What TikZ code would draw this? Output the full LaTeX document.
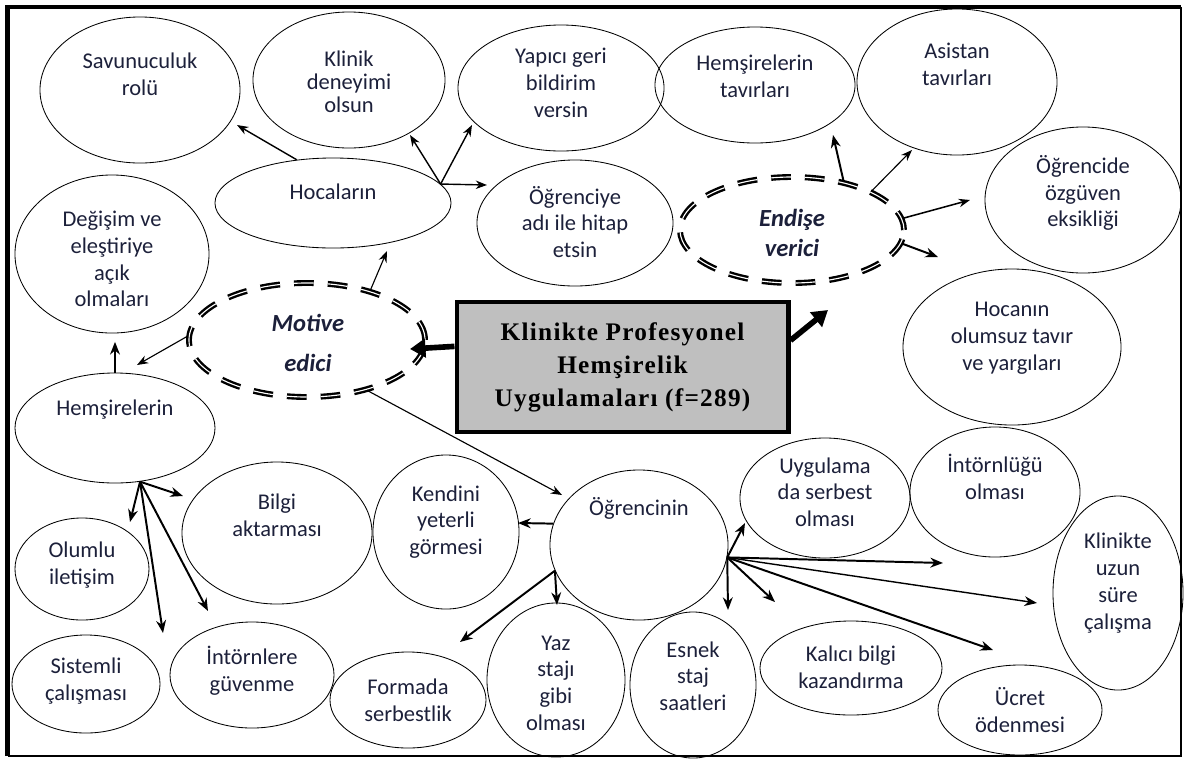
\documentclass[tikz,border=0pt]{standalone}
\usepackage{fontspec}
\setmainfont{Carlito}
\newfontfamily\boxfont[LetterSpace=5]{Liberation Serif}
\usetikzlibrary{shapes.geometric,arrows.meta}
\definecolor{ink}{RGB}{28,32,58}
\definecolor{boxgray}{RGB}{191,191,191}

\begin{document}
\begin{tikzpicture}[x=0.025cm,y=-0.025cm,
        bub/.style={ellipse,draw,line width=0.6pt,inner sep=0},
        dbl/.style={ellipse,draw,double,line width=1.7pt,double distance=0.8pt,dash pattern=on 14pt off 10pt,inner sep=0},
        txt/.style={align=center,text=ink,inner sep=0,font=\fontsize{16}{19}\selectfont},
        key/.style={align=center,text=ink,inner sep=0,font=\fontsize{17.5}{21}\selectfont\bfseries\itshape},
        thin arr/.style={-{Stealth[length=8pt,width=6pt]},line width=0.8pt},
        arr/.style={-{Stealth[length=9pt,width=7pt]},line width=1.4pt},
        big arr/.style={-{Triangle[length=11pt,width=13pt]},line width=4pt},
        ]
\useasboundingbox (0,0) rectangle (1188,758);

% frame
\draw[line width=3.5pt] (7.5,756) -- (7.5,7) -- (1181,7);
\draw[line width=2pt] (1181,7) -- (1181,756) -- (7.5,756);

% centre box
\node[draw,line width=3.5pt,fill=boxgray,minimum width=8.275cm,minimum height=3.25cm,align=center,
      font=\boxfont\fontsize{18}{23.5}\selectfont\bfseries] (box) at (622.5,367)
      {Klinikte Profesyonel\\Hemşirelik\\Uygulamaları (f=289)};

% the two groups
\node[dbl,minimum width=5.9cm,minimum height=2.85cm] (mot) at (307,340) {};
\node[key,font=\fontsize{17.5}{28.5}\selectfont\bfseries\itshape] (mot-t) at (308,343) {Motive\\edici};
\node[dbl,minimum width=5.6cm,minimum height=2.65cm] (end) at (792,230) {};
\node[key] (end-t) at (792,233) {Endişe\\verici};

% bubbles
\node[bub,minimum width=5cm,minimum height=3.65cm] (sav) at (140,90) {};
\node[txt] (sav-t) at (140,74) {Savunuculuk\\rolü};
\node[bub,minimum width=4.8cm,minimum height=3.4cm] (kli) at (349,80) {};
\node[txt,font=\fontsize{16}{16.5}\selectfont] (kli-t) at (349,82) {Klinik\\deneyimi\\olsun};
\node[bub,minimum width=5.15cm,minimum height=3.15cm] (yap) at (561,88) {};
\node[txt] (yap-t) at (561,83) {Yapıcı geri\\bildirim\\versin};
\node[bub,minimum width=5cm,minimum height=2.9cm] (hta) at (755,85) {};
\node[txt] (hta-t) at (755,76) {Hemşirelerin\\tavırları};
\node[bub,minimum width=5cm,minimum height=3.65cm] (asi) at (957,82) {};
\node[txt] (asi-t) at (957,64) {Asistan\\tavırları};
\node[bub,minimum width=4.9cm,minimum height=3.65cm] (ozg) at (1083,200) {};
\node[txt] (ozg-t) at (1083,193) {Öğrencide\\özgüven\\eksikliği};
\node[bub,minimum width=4.9cm,minimum height=3.15cm] (hit) at (575,223) {};
\node[txt] (hit-t) at (575,222) {Öğrenciye\\adı ile hitap\\etsin};
\node[bub,minimum width=5.9cm,minimum height=2.25cm] (hoc) at (333,203) {};
\node[txt] (hoc-t) at (333,192) {Hocaların};
\node[bub,minimum width=4.85cm,minimum height=3.95cm] (deg) at (112,254) {};
\node[txt] (deg-t) at (112,259) {Değişim ve\\eleştiriye\\açık\\olmaları};
\node[bub,minimum width=5cm,minimum height=2.75cm] (hem) at (115,428) {};
\node[txt] (hem-t) at (115,410) {Hemşirelerin};
\node[bub,minimum width=5.45cm,minimum height=3.9cm] (hyr) at (1012,347) {};
\node[txt] (hyr-t) at (1012,338) {Hocanın\\olumsuz tavır\\ve yargıları};
\node[bub,minimum width=4.75cm,minimum height=3.55cm] (bil) at (277,533) {};
\node[txt] (bil-t) at (277,515) {Bilgi\\aktarması};
\node[bub,minimum width=3.65cm,minimum height=3.85cm] (ken) at (446,532) {};
\node[txt] (ken-t) at (446,522) {Kendini\\yeterli\\görmesi};
\node[bub,minimum width=4.45cm,minimum height=3.75cm] (ogr) at (639,545) {};
\node[txt] (ogr-t) at (639,508) {Öğrencinin};
\node[bub,minimum width=4.25cm,minimum height=3cm] (uyg) at (825,498) {};
\node[txt] (uyg-t) at (825,492) {Uygulama\\da serbest\\olması};
\node[bub,minimum width=4.25cm,minimum height=3.25cm] (int) at (995,492) {};
\node[txt] (int-t) at (995,477) {İntörnlüğü\\olması};
\node[bub,minimum width=3.25cm,minimum height=4.85cm] (kuz) at (1118,593) {};
\node[txt] (kuz-t) at (1118,583) {Klinikte\\uzun\\süre\\çalışma};
\node[bub,minimum width=4.1cm,minimum height=2.25cm] (ucr) at (1020,710) {};
\node[txt] (ucr-t) at (1020,710) {Ücret\\ödenmesi};
\node[bub,minimum width=4.55cm,minimum height=2.35cm] (kal) at (851,668) {};
\node[txt] (kal-t) at (851,667) {Kalıcı bilgi\\kazandırma};
\node[bub,minimum width=3.15cm,minimum height=3.65cm] (esn) at (693,685) {};
\node[txt] (esn-t) at (693,676) {Esnek\\staj\\saatleri};
\node[bub,minimum width=3.45cm,minimum height=3.85cm] (yaz) at (556,680) {};
\node[txt] (yaz-t) at (556,683) {Yaz\\stajı\\gibi\\olması};
\node[bub,minimum width=3.9cm,minimum height=2.4cm] (frm) at (408,700) {};
\node[txt] (frm-t) at (408,700) {Formada\\serbestlik};
\node[bub,minimum width=4.1cm,minimum height=2.65cm] (ing) at (252,675) {};
\node[txt] (ing-t) at (252,671) {İntörnlere\\güvenme};
\node[bub,minimum width=3.7cm,minimum height=2.45cm] (sis) at (86,684) {};
\node[txt] (sis-t) at (86,681) {Sistemli\\çalışması};
\node[bub,minimum width=3.35cm,minimum height=2.55cm] (olu) at (82,569) {};
\node[txt] (olu-t) at (82,565) {Olumlu\\iletişim};

% arrow ends
\coordinate (hocHub) at (hoc.10);
\coordinate (toSav) at (237,125);
\coordinate (toKli) at (410,135);
\coordinate (toYap) at (472,125);
\coordinate (toHit) at (487,185);
\coordinate (toHoc) at (387,251);
\coordinate (toHem) at (137,365);
\coordinate (toOgr) at (562,495);
\coordinate (toMot) at (410,349);
\coordinate (toEnd) at (828,310);
\coordinate (toHta) at (833,135);
\coordinate (toAsi) at (912,150);
\coordinate (toOzg) at (970,200);
\coordinate (toHyr) at (938,257);
\coordinate (toBil) at (183,496);
\coordinate (toOlu) at (130,522);
\coordinate (toSis) at (163,633);
\coordinate (toIng) at (208,611);
\coordinate (toKen) at (518,523);
\coordinate (toYaz) at (557,605);
\coordinate (toFrm) at (460,642);
\coordinate (toUyg) at (745,523);
\coordinate (toEsn) at (728,610);
\coordinate (toKal) at (775,602);
\coordinate (toInt) at (943,563);
\coordinate (toKuz) at (1037,603);
\coordinate (toUcr) at (993,650);

% box
\draw[big arr] (box.173) -- (toMot);
\draw[big arr] (box.9) -- (toEnd);

% Motive edici
\draw[thin arr] (mot.38) -- (toHoc);
\draw[thin arr] (mot.178) -- (toHem);
\draw[thin arr] (mot.-40) -- (toOgr);

% Hocalarin
\draw[thin arr,line width=1pt] (hoc.130) -- (toSav);
\draw[thin arr,line width=1pt] (hocHub) -- (toKli);
\draw[thin arr,line width=1pt] (hocHub) -- (toYap);
\draw[thin arr,line width=1pt] (hocHub) -- (toHit);

% Endise verici
\draw[arr] (end.43) -- (toHta);
\draw[thin arr] (end.26) -- (toAsi);
\draw[thin arr,line width=1.1pt] (end.6) -- (toOzg);
\draw[arr] (end.-7) -- (toHyr);

% Hemsirelerin
\draw[arr,shorten >=6pt] (hem.north) -- (hem.north |- deg.south);
\draw[arr] (hem.-65) -- (toBil);
\draw[arr] (hem.-65) -- (toOlu);
\draw[arr] (hem.-65) -- (toSis);
\draw[arr] (hem.-65) -- (toIng);

% Ogrencinin
\draw[arr] (ogr.166) -- (toKen);
\draw[arr] (ogr.197) -- (toYaz);
\draw[arr] (ogr.197) -- (toFrm);
\draw[arr] (ogr.-8) -- (toUyg);
\draw[arr] (ogr.-8) -- (toEsn);
\draw[arr] (ogr.-8) -- (toKal);
\draw[arr] (ogr.-8) -- (toInt);
\draw[arr,line width=1pt] (ogr.-8) -- (toKuz);
\draw[arr] (ogr.-8) -- (toUcr);

\end{tikzpicture}
\end{document}
